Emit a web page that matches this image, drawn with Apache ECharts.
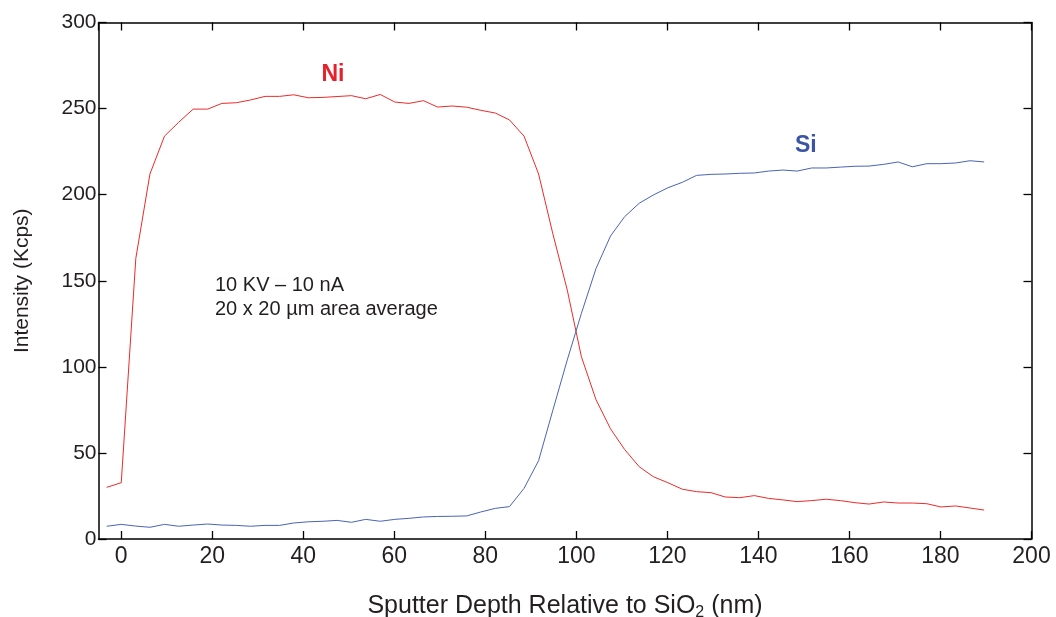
<!DOCTYPE html>
<html>
<head>
<meta charset="utf-8">
<script src="https://cdn.jsdelivr.net/npm/echarts@6/dist/echarts.min.js"></script>
<style>
  html, body { margin: 0; padding: 0; background: #fff; }
  #chart { width: 1056px; height: 617px; }
</style>
</head>
<body>
<div id="chart"></div>
<script>
// Sputter depth (nm) of each measurement
const depth = [-3.2, 0, 3.2, 6.3, 9.5, 12.6, 15.8, 19.0, 22.1, 25.3, 28.4, 31.6, 34.8, 37.9, 41.1, 44.3,
  47.4, 50.6, 53.7, 56.9, 60.1, 63.2, 66.4, 69.5, 72.7, 75.9, 79.0, 82.2, 85.3, 88.5, 91.7, 94.8,
  98.0, 101.1, 104.3, 107.5, 110.6, 113.8, 116.9, 120.1, 123.3, 126.4, 129.6, 132.7, 135.9, 139.1,
  142.2, 145.4, 148.5, 151.7, 154.9, 158.0, 161.2, 164.3, 167.5, 170.7, 173.8, 177.0, 180.1, 183.3,
  186.5, 189.6];

// Ni intensity (Kcps)
const niValues = [30.0, 32.7, 163, 212, 234, 242, 249.7, 249.7, 253, 253.4, 255, 257.1, 257.1, 258,
  256.3, 256.5, 257, 257.5, 255.7, 258.2, 253.8, 253, 254.6, 250.9, 251.5, 250.8, 249, 247.4, 243.4,
  234, 212, 177.6, 144.6, 105.9, 81, 64, 52, 42, 36.2, 32.7, 28.9, 27.5, 26.9, 24.4, 24, 25.2, 23.6,
  22.7, 21.7, 22.3, 23.1, 22.3, 21.1, 20.3, 21.5, 20.9, 20.9, 20.5, 18.6, 19.2, 18.0, 16.8];

// Si intensity (Kcps)
const siValues = [7.4, 8.5, 7.5, 6.8, 8.5, 7.4, 8.1, 8.7, 8.1, 7.9, 7.4, 7.9, 7.9, 9.3, 10, 10.3,
  10.8, 9.7, 11.4, 10.3, 11.4, 12.0, 12.8, 13.1, 13.2, 13.4, 15.7, 17.8, 18.8, 29.4, 45.5, 74.5,
  104, 131, 157, 176, 187.2, 195, 199.8, 204, 207.2, 211.2, 211.8, 212, 212.4, 212.6, 213.7, 214.3,
  213.7, 215.5, 215.5, 216, 216.5, 216.6, 217.6, 219, 216.2, 218, 218, 218.4, 219.7, 219];

// Series labels and their anchor positions (depth, intensity)
const labelNames = ['Ni', 'Si'];
const labelAnchors = [[46.5, 269.5], [150.4, 228.3]];
const labelColors = ['#e8202a', '#3a55a8'];
const noteLines = ['10 KV \u2013 10 nA', '20 x 20 \u00b5m area average'];

const xMin = -5, xMax = 200, yMin = 0, yMax = 300, yStep = 50;
const textColor = '#231f20';
const fontFamily = '"Liberation Sans", Arial, Helvetica, sans-serif';

const chart = echarts.init(document.getElementById('chart'), null, { renderer: 'canvas' });

function pairs(vals) { return depth.map((d, i) => [d, vals[i]]); }

const axisLineStyle = { color: '#000', width: 1.5 };
const tickStyle = { inside: true, length: 8, lineStyle: { color: '#000', width: 1.3 } };

function labelSeries(i) {
  return {
    name: labelNames[i] + ' label', type: 'scatter', data: [labelAnchors[i]],
    symbol: 'circle', symbolSize: 1, itemStyle: { color: 'rgba(0,0,0,0)', opacity: 1 },
    silent: true, z: 5,
    label: {
      show: true, position: 'inside', formatter: labelNames[i],
      color: labelColors[i], fontSize: 23, fontWeight: 'bold', fontFamily: fontFamily
    }
  };
}

chart.setOption({
  animation: false,
  backgroundColor: '#fff',
  grid: { left: 98.5, right: 24.5, top: 22.5, bottom: 78, containLabel: false, outerBoundsMode: 'none' },
  xAxis: [
    {
      type: 'value', min: xMin, max: xMax, splitNumber: 10, position: 'bottom',
      splitLine: { show: false },
      axisLine: { onZero: false, lineStyle: axisLineStyle },
      axisTick: tickStyle,
      axisLabel: { showMinLabel: false, color: textColor, fontSize: 23, fontFamily: fontFamily, margin: 6 },
      name: '{a|Sputter Depth Relative to SiO}{s|2}{a| (nm)}',
      nameLocation: 'middle', nameGap: 52,
      nameTextStyle: {
        rich: {
          a: { fontSize: 25, color: textColor, fontFamily: fontFamily },
          s: { fontSize: 16, color: textColor, fontFamily: fontFamily, verticalAlign: 'bottom', padding: [14, 0, 0, 0] }
        }
      }
    },
    {
      type: 'value', min: xMin, max: xMax, splitNumber: 10, position: 'top',
      splitLine: { show: false },
      axisLine: { onZero: false, lineStyle: axisLineStyle },
      axisTick: tickStyle,
      axisLabel: { show: false }
    }
  ],
  yAxis: [
    {
      type: 'value', min: yMin, max: yMax, interval: yStep, position: 'left',
      splitLine: { show: false },
      axisLine: { show: true, onZero: false, lineStyle: axisLineStyle },
      axisTick: Object.assign({ show: true }, tickStyle),
      axisLabel: { color: textColor, fontSize: 21, fontFamily: fontFamily, margin: 2 },
      name: 'Intensity (Kcps)', nameLocation: 'middle', nameGap: 66,
      nameTextStyle: { fontSize: 21, color: textColor, fontFamily: fontFamily }
    },
    {
      type: 'value', min: yMin, max: yMax, interval: yStep, position: 'right',
      splitLine: { show: false },
      axisLine: { show: true, onZero: false, lineStyle: axisLineStyle },
      axisTick: Object.assign({ show: true }, tickStyle),
      axisLabel: { show: false }
    }
  ],
  series: [
    {
      name: 'Ni', type: 'line', data: pairs(niValues), symbol: 'none',
      lineStyle: { color: '#ee2a2a', width: 1 }, itemStyle: { color: '#ee2a2a' }
    },
    {
      name: 'Si', type: 'line', data: pairs(siValues), symbol: 'none',
      lineStyle: { color: '#4a64b4', width: 1 }, itemStyle: { color: '#4a64b4' }
    },
    labelSeries(0),
    labelSeries(1)
  ],
  graphic: [
    {
      type: 'text', left: 215, top: 273,
      style: { text: noteLines.join('\n'), fill: textColor, fontSize: 20, lineHeight: 24, fontFamily: fontFamily }
    }
  ]
});
</script>
</body>
</html>
